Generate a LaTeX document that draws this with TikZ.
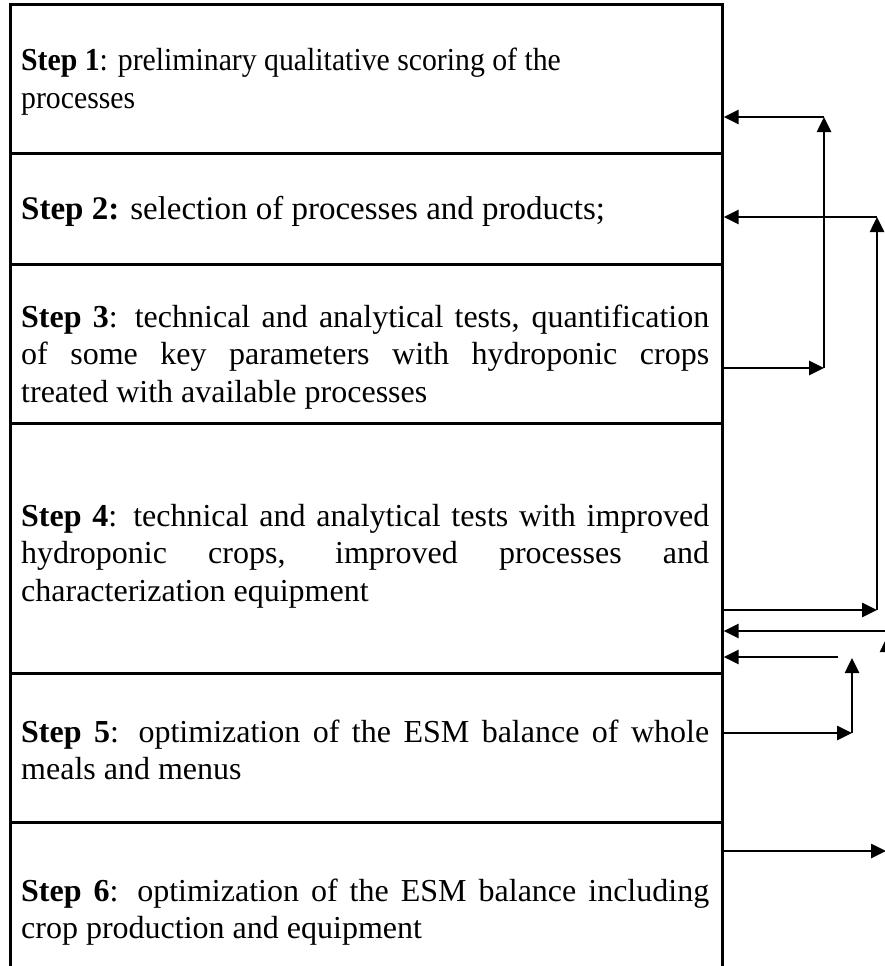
\documentclass[tikz,border=0pt]{standalone}
\usepackage{fontspec}
\setmainfont{Liberation Serif}
\newfontfamily\narrowserif[FakeStretch=0.93]{Liberation Serif}
\usetikzlibrary{arrows.meta}
\hbadness=10000 \tolerance=10000
\begin{document}
\begin{tikzpicture}[x=1pt,y=-1pt,
  rowbox/.style={draw, line width=2.6pt, rectangle, anchor=north west,
    minimum width=712pt, inner sep=0pt},
  rowtext/.style={anchor=west, text width=688pt, inner sep=0pt,
    align=justify, font=\fontsize{32}{37.5}\selectfont},
  arr/.style={line width=2.6pt, -{Triangle[length=15pt,width=14pt]}},
  ]
\useasboundingbox (0,0) rectangle (885,966);
\clip (0,0) rectangle (885,966);
% row boxes
\node[rowbox, minimum height=149pt] (r1) at (9,3) {};
\node[rowbox, minimum height=111pt] (r2) at (9,152) {};
\node[rowbox, minimum height=159pt] (r3) at (9,263) {};
\node[rowbox, minimum height=250pt] (r4) at (9,422) {};
\node[rowbox, minimum height=149pt] (r5) at (9,672) {};
\node[rowbox, minimum height=175pt] (r6) at (9,821) {};
% texts
\node[rowtext, font=\narrowserif\fontsize{32}{38}\selectfont] (s1) at (21,82)
  {\textbf{Step 1}: preliminary qualitative scoring of the\\ processes};
\node[rowtext, font=\fontsize{33}{37.5}\selectfont] (s2) at (21,211)
  {\textbf{Step 2:} selection of processes and products;};
\node[rowtext] (s3) at (21,357)
  {\textbf{Step 3}: technical and analytical tests, quantification\linebreak
   of some key parameters with hydroponic crops\linebreak
   treated with available processes};
\node[rowtext] (s4) at (21,556)
  {\textbf{Step 4}: technical and analytical tests with improved\linebreak
   hydroponic crops, improved processes and\linebreak
   characterization equipment};
\node[rowtext] (s5) at (21,750)
  {\textbf{Step 5}: optimization of the ESM balance of whole\linebreak
   meals and menus};
\node[rowtext] (s6) at (21,912)
  {\textbf{Step 6}: optimization of the ESM balance including\linebreak
   crop production and equipment};
% loop from step 3 to step 1
\coordinate (c1) at (824,368);
\coordinate (t1) at (824,117);
\draw[arr] (r3.east |- c1) -- (c1);
\draw[arr] (c1) -- (t1);
\draw[arr] (t1) -- (r1.east |- t1);
% loop from step 4 to step 2
\coordinate (c2) at (877,610);
\coordinate (t2) at (877,217);
\draw[arr] (r4.east |- c2) -- (c2);
\draw[arr] (c2) -- (t2);
\draw[arr] (t2) -- (r2.east |- t2);
% loop from step 6 to step 4
\coordinate (c3) at (886,851);
\coordinate (v3) at (887,851);
\coordinate (t3) at (887,637);
\coordinate (s3a) at (900,631);
\draw[arr] (r6.east |- c3) -- (c3);
\draw[arr] (v3) -- (t3);
\draw[arr] (s3a) -- (r4.east |- s3a);
% loop from step 5 to step 4
\coordinate (c4) at (852,733);
\coordinate (t4) at (852,658);
\coordinate (s4a) at (838,657);
\draw[arr] (r5.east |- c4) -- (c4);
\draw[arr] (c4) -- (t4);
\draw[arr] (s4a) -- (r4.east |- s4a);
\end{tikzpicture}
\end{document}
